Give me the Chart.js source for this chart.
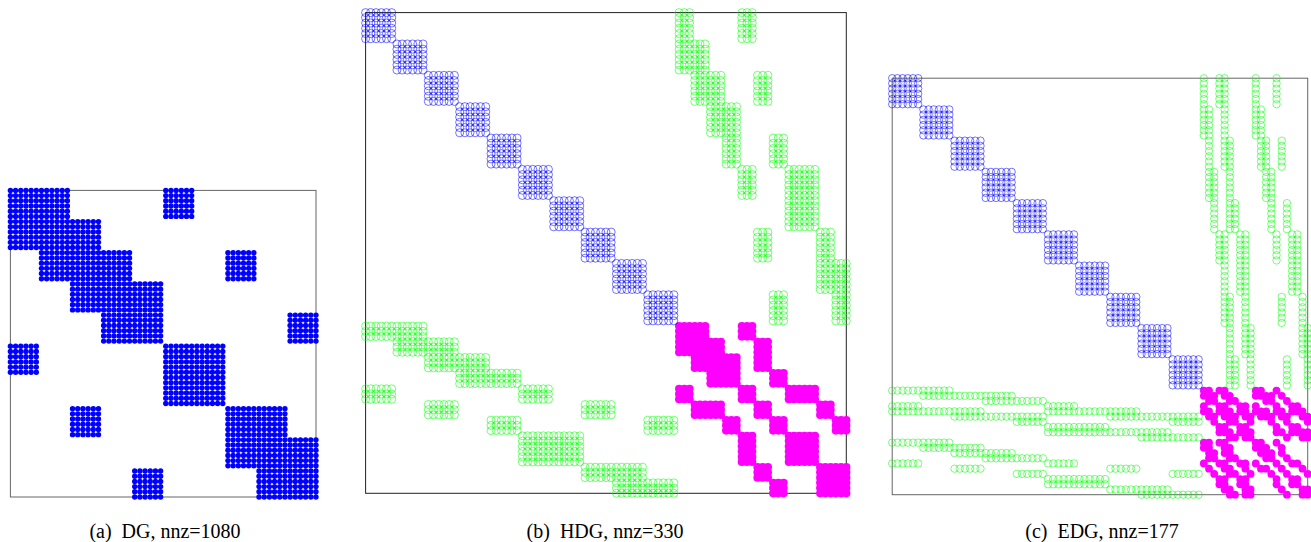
<!DOCTYPE html>
<html>
<head>
<meta charset="utf-8">
<script src="https://cdn.jsdelivr.net/npm/chart.js@4"></script>
<style>
  html, body { margin: 0; padding: 0; background: #fff; width: 1311px; height: 542px; overflow: hidden; }
  canvas { position: absolute; }
  .caption { position: absolute; top: 520px; font: 20px "Liberation Serif", serif; color: #000; white-space: pre; transform: translateX(-50%); }
</style>
</head>
<body>
<canvas id="dgChart"></canvas>
<canvas id="hdgChart"></canvas>
<canvas id="edgChart"></canvas>
<div class="caption" style="left:165px">(a)  DG, nnz=1080</div>
<div class="caption" style="left:605px">(b)  HDG, nnz=330</div>
<div class="caption" style="left:1102px">(c)  EDG, nnz=177</div>

<script>
// element block size, every element has 6 dofs
const elementSize = 6;
const elementCount = 10;

// (a) DG: for each element row, which element columns are filled
const dgCols = [[0,1,5],[0,1,2],[1,2,3,7],[2,3,4],[3,4,9],[0,5,6],[5,6],[2,7,8],[7,8,9],[4,8,9]];

// (b) HDG: 11 faces with 3 dofs each
const hdgFaceSize = 3;
const hdgFaceCount = 11;
const hdgElementFaces = [[0,4],[0,1],[1,2,5],[2,3],[3,6],[4,7,8],[7,8],[5,9],[9,10],[6,10]];
const hdgFaceFace = [[0,1,4],[0,1,2,5],[1,2,3,5],[2,3,6],[0,4,7,8],[1,2,5,9],[3,6,10],[4,7,8],[4,7,8],[5,9,10],[6,9,10]];

// (c) EDG: 21 single dofs
const edgDofCount = 21;
const edgElementDofs = [
  [0,3,4,10,14],[0,1,4,10,11],[1,4,5,11,12,15],[1,2,5,12,13],[2,5,6,13,16],
  [3,4,7,8,14,17,18],[4,7,8,17,18],[4,5,8,15,19],[5,8,9,19,20],[5,6,9,16,20]
];
const edgDofDof = [
  [0,1,3,4,10,11,14],
  [0,1,2,4,5,10,11,12,13,15],
  [1,2,5,6,12,13,16],
  [0,3,4,7,8,10,14,17,18],
  [0,1,3,4,5,7,8,10,11,12,14,15,17,18,19],
  [1,2,4,5,6,8,9,11,12,13,15,16,19,20],
  [2,5,6,9,13,16,20],
  [3,4,7,8,14,17,18],
  [3,4,5,7,8,9,14,15,17,18,19,20],
  [5,6,8,9,16,19,20],
  [0,1,3,4,10,11,14],
  [0,1,4,5,10,11,12,15],
  [1,2,4,5,11,12,13,15],
  [1,2,5,6,12,13,16],
  [0,3,4,7,8,10,14,17,18],
  [1,4,5,8,11,12,15,19],
  [2,5,6,9,13,16,20],
  [3,4,7,8,14,17,18],
  [3,4,7,8,14,17,18],
  [4,5,8,9,15,19,20],
  [5,6,8,9,16,19,20]
];

const range = (start, count) => Array.from({ length: count }, (_, i) => start + i);

// spread a pattern (row -> list of cols) into scatter points
function spread(pattern, rowSize, colSize, rowStart, colStart) {
  const pts = [];
  pattern.forEach((cols, r) => {
    cols.forEach(c => {
      range(rowStart + r * rowSize, rowSize).forEach(y => {
        range(colStart + c * colSize, colSize).forEach(x => pts.push({ x: x, y: y }));
      });
    });
  });
  return pts;
}

const flipXY = pts => pts.map(p => ({ x: p.y, y: p.x }));

const frame = {
  id: 'frame',
  beforeDatasetsDraw(chart, args, opts) {
    const a = chart.chartArea;
    const ctx = chart.ctx;
    ctx.save();
    ctx.strokeStyle = opts.color;
    ctx.lineWidth = opts.width;
    ctx.strokeRect(a.left, a.top, a.right - a.left, a.bottom - a.top);
    ctx.restore();
  }
};

function spy(id, box, size, datasets) {
  const margin = 10;
  const el = document.getElementById(id);
  const left = Math.floor(box.left) - margin;
  const top = Math.floor(box.top) - margin;
  const w = Math.ceil(box.right) + margin - left;
  const h = Math.ceil(box.bottom) + margin - top;
  el.style.left = left + 'px';
  el.style.top = top + 'px';
  el.width = w;
  el.height = h;
  el.style.width = w + 'px';
  el.style.height = h + 'px';
  return new Chart(el.getContext('2d'), {
    type: 'scatter',
    data: { datasets: datasets },
    options: {
      responsive: false,
      animation: false,
      layout: {
        padding: {
          left: box.left - left,
          top: box.top - top,
          right: left + w - box.right,
          bottom: top + h - box.bottom
        }
      },
      plugins: {
        legend: { display: false },
        tooltip: { enabled: false },
        frame: { color: box.color, width: 1 }
      },
      scales: {
        x: { type: 'linear', min: 0, max: size - 1, display: false },
        y: { type: 'linear', min: 0, max: size - 1, reverse: true, display: false }
      }
    },
    plugins: [frame]
  });
}

function openDots(pts, color, r) {
  return { data: pts, clip: false, pointRadius: r, pointBackgroundColor: 'rgba(0,0,0,0)', pointBorderColor: color, pointBorderWidth: 0.55 };
}
function solidDots(pts, color, r) {
  return { data: pts, clip: false, pointRadius: r, pointBackgroundColor: color, pointBorderColor: color, pointBorderWidth: 0 };
}

// (a)
spy('dgChart', { left: 10.4, top: 190.4, right: 316, bottom: 497, color: '#666' }, elementSize * elementCount, [
  solidDots(spread(dgCols, elementSize, elementSize, 0, 0), '#0000ff', 2.7)
]);

// (b)
const hdgSize = elementSize * elementCount + hdgFaceSize * hdgFaceCount;
const hdgDiag = range(0, elementCount).map(i => [i]);
const hdgUpper = spread(hdgElementFaces, elementSize, hdgFaceSize, 0, elementSize * elementCount);
spy('hdgChart', { left: 365.6, top: 12.6, right: 846.3, bottom: 493.3, color: '#222' }, hdgSize, [
  openDots(spread(hdgDiag, elementSize, elementSize, 0, 0), '#0000ff', 4),
  openDots(hdgUpper.concat(flipXY(hdgUpper)), '#00ff00', 4),
  solidDots(spread(hdgFaceFace, hdgFaceSize, hdgFaceSize, elementSize * elementCount, elementSize * elementCount), '#ff00ff', 4.1)
]);

// (c)
const edgSize = elementSize * elementCount + edgDofCount;
const edgUpper = spread(edgElementDofs, elementSize, 1, 0, elementSize * elementCount);
spy('edgChart', { left: 892.2, top: 78.2, right: 1307.7, bottom: 494.7, color: '#666' }, edgSize, [
  openDots(spread(hdgDiag, elementSize, elementSize, 0, 0), '#0000ff', 3.7),
  openDots(edgUpper.concat(flipXY(edgUpper)), '#00ff00', 3.7),
  solidDots(spread(edgDofDof, 1, 1, elementSize * elementCount, elementSize * elementCount), '#ff00ff', 3.9)
]);
</script>
</body>
</html>
